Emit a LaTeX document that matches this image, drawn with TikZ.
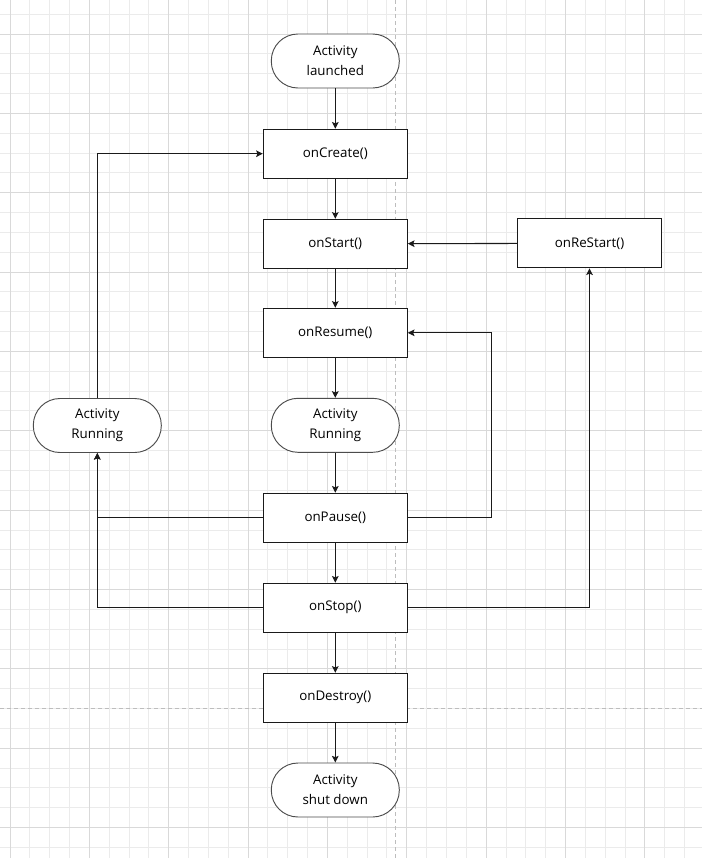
\documentclass[tikz,border=0pt]{standalone}
\usepackage{fontspec}
\setmainfont{Open Sans}
\usetikzlibrary{arrows.meta}
\definecolor{gridminor}{HTML}{EBEBEB}
\definecolor{gridmajor}{HTML}{D9D9D9}
\definecolor{pagebrk}{HTML}{BDBDBD}
\definecolor{edgecol}{HTML}{1A1A1A}
\tikzset{
  proc/.style={draw=edgecol, line width=0.8pt, fill=white, minimum width=108pt, minimum height=36.75pt, inner sep=0pt, font=\fontsize{10}{15}\selectfont},
  term/.style={draw=black!70, line width=0.7pt, fill=white, rounded corners=20pt, minimum width=96pt, minimum height=40.5pt, inner sep=0pt, align=center, font=\fontsize{10}{15}\selectfont},
  conn/.style={draw=edgecol, line width=0.8pt, -{Stealth[length=5pt,width=5pt,inset=1pt]}},
}
\begin{document}
\begin{tikzpicture}[x=0.75pt, y=-0.75pt]
\useasboundingbox (0,0) rectangle (702,858);
\fill[white] (0,0) rectangle (702,858);
% grid
\foreach \k in {0,...,34} {
  \pgfmathsetmacro{\gx}{10+19.84*\k}
  \draw[gridminor, line width=0.75pt] (\gx,0) -- (\gx,858);
}
\foreach \k in {-1,...,41} {
  \pgfmathsetmacro{\gy}{34+19.84*\k}
  \draw[gridminor, line width=0.75pt] (0,\gy) -- (702,\gy);
}
\foreach \k in {0,4,...,32} {
  \pgfmathsetmacro{\gx}{10+19.84*\k}
  \draw[gridmajor, line width=0.75pt] (\gx,0) -- (\gx,858);
}
\foreach \k in {0,4,...,40} {
  \pgfmathsetmacro{\gy}{34+19.84*\k}
  \draw[gridmajor, line width=0.75pt] (0,\gy) -- (702,\gy);
}
% page breaks
\draw[pagebrk, line width=0.75pt, dash pattern=on 3pt off 2.25pt] (395.3,0) -- (395.3,858);
\draw[pagebrk, line width=0.75pt, dash pattern=on 3pt off 2.25pt] (0,708.3) -- (702,708.3);

% nodes
\node[term] (launch) at (335.3,61) {Activity\\launched};
\node[proc] (create) at (335.3,153.7) {onCreate()};
\node[proc] (start) at (335.3,243.8) {onStart()};
\node[proc] (resume) at (335.3,332.8) {onResume()};
\node[term] (run) at (335.3,425.3) {Activity\\Running};
\node[proc] (pause) at (335.3,517.7) {onPause()};
\node[proc] (stop) at (335.3,607.7) {onStop()};
\node[proc] (destroy) at (335.3,697.8) {onDestroy()};
\node[term] (shut) at (335.3,790) {Activity\\shut down};
\node[proc] (restart) at (589.5,243.3) {onReStart()};
\node[term] (runL) at (97.3,425.5) {Activity\\Running};
\coordinate (pr) at (491.3,517.7);

% connectors
\draw[conn] (launch) -- (create);
\draw[conn] (create) -- (start);
\draw[conn] (start) -- (resume);
\draw[conn] (resume) -- (run);
\draw[conn] (run) -- (pause);
\draw[conn] (pause) -- (stop);
\draw[conn] (stop) -- (destroy);
\draw[conn] (destroy) -- (shut);
\draw[conn] (restart) -- (start);
\draw[conn] (pause.east) -- (pr) |- (resume.east);
\draw[conn] (pause.west) -| (runL.south);
\draw[conn] (stop.west) -| (runL.south);
\draw[conn] (stop.east) -| (restart.south);
\draw[conn] (runL.north) |- (create.west);
\end{tikzpicture}
\end{document}
